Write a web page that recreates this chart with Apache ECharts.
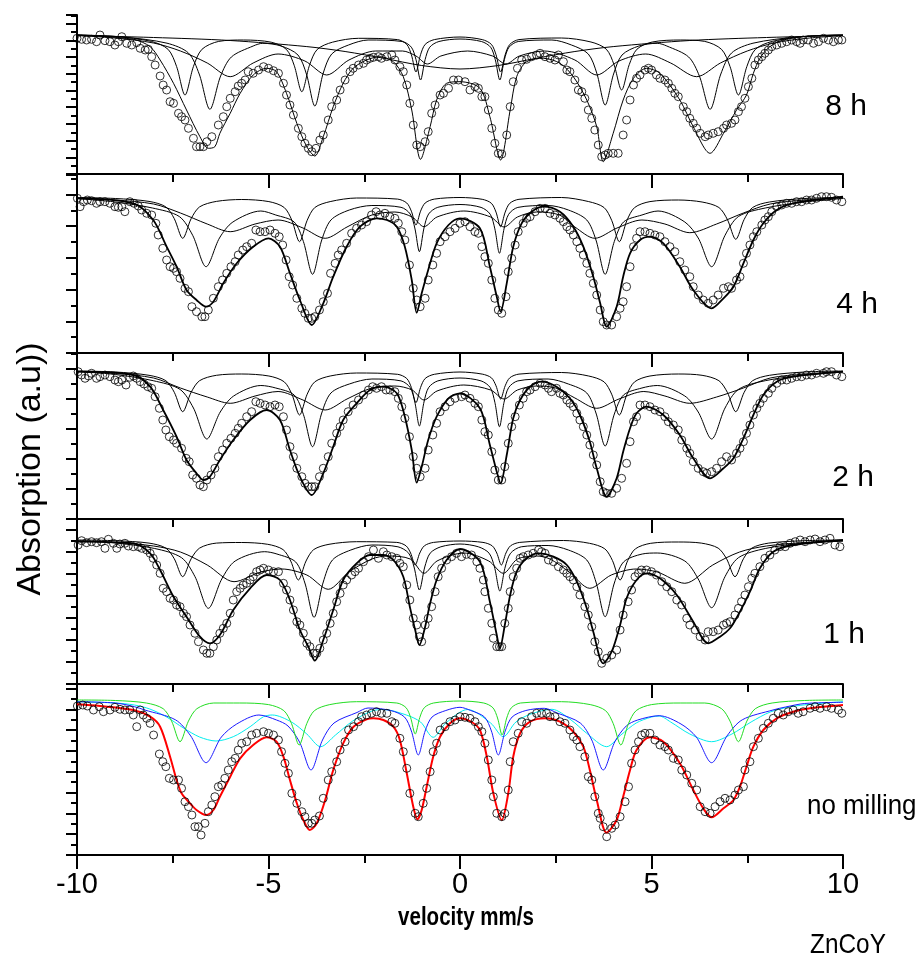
<!DOCTYPE html>
<html><head><meta charset="utf-8">
<script src="https://cdn.jsdelivr.net/npm/echarts@6/dist/echarts.min.js"></script>
<style>html,body{margin:0;padding:0;background:#fff}#c{width:923px;height:958px}</style>
</head><body><div id="c"></div>
<script>
// ---------------- DATA (velocity in mm/s, absorption in a.u.) ----------------
const xTicks = [-10, -5, 0, 5, 10];
const panelLabels = ['8 h', '4 h', '2 h', '1 h', 'no milling'];

// ===== 8 h =====
const data8h = [[-10.0,13.57],[-9.88,13.47],[-9.75,13.4],[-9.62,13.47],[-9.49,13.23],[-9.4,13.9],[-9.27,13.33],[-9.14,13.23],[-9.01,12.9],[-8.92,13.23],[-8.83,13.73],[-8.7,13.07],[-8.57,12.9],[-8.44,13.13],[-8.35,12.57],[-8.22,12.4],[-8.14,12.47],[-8.05,11.73],[-7.96,10.9],[-7.83,9.8],[-7.75,8.9],[-7.66,8.4],[-7.57,7.23],[-7.48,7.07],[-7.35,6.07],[-7.27,5.73],[-7.18,5.4],[-7.09,4.57],[-6.96,3.57],[-6.88,2.73],[-6.79,2.73],[-6.7,2.73],[-6.61,3.23],[-6.48,3.73],[-6.31,4.9],[-6.18,5.73],[-6.09,6.73],[-6.0,7.57],[-5.87,8.23],[-5.79,8.8],[-5.7,9.07],[-5.61,9.4],[-5.53,10.23],[-5.4,10.07],[-5.26,10.4],[-5.13,10.73],[-5.0,10.57],[-4.87,10.33],[-4.74,10.07],[-4.61,9.07],[-4.53,7.9],[-4.44,6.9],[-4.35,5.9],[-4.22,4.57],[-4.13,3.73],[-4.05,3.07],[-3.96,2.57],[-3.87,2.23],[-3.76,2.57],[-3.66,3.4],[-3.57,3.9],[-3.44,5.4],[-3.35,6.73],[-3.22,7.4],[-3.13,8.4],[-3.0,9.4],[-2.87,10.23],[-2.79,10.57],[-2.65,10.9],[-2.52,11.07],[-2.44,11.4],[-2.35,11.57],[-2.26,11.67],[-2.13,11.73],[-2.05,11.57],[-1.91,11.73],[-1.78,11.9],[-1.7,11.4],[-1.57,10.73],[-1.48,10.23],[-1.39,8.9],[-1.31,7.07],[-1.22,4.9],[-1.13,2.9],[-1.04,2.73],[-0.91,3.23],[-0.83,4.23],[-0.74,6.07],[-0.65,6.9],[-0.52,7.9],[-0.43,8.07],[-0.3,8.57],[-0.17,9.4],[-0.04,9.4],[0.13,9.23],[0.26,8.4],[0.39,8.73],[0.48,8.57],[0.57,7.73],[0.65,7.73],[0.74,6.4],[0.83,4.57],[0.91,3.07],[1.0,2.07],[1.09,2.0],[1.22,3.9],[1.31,6.73],[1.39,9.23],[1.5,10.57],[1.61,11.4],[1.74,11.47],[1.87,11.73],[2.0,11.9],[2.09,12.07],[2.22,11.73],[2.35,11.57],[2.48,11.4],[2.57,11.9],[2.7,11.23],[2.79,10.4],[2.87,10.23],[3.0,9.4],[3.09,8.4],[3.18,8.23],[3.26,7.57],[3.35,6.4],[3.44,5.57],[3.52,4.4],[3.61,2.9],[3.7,1.73],[3.79,1.9],[3.87,2.07],[4.0,2.07],[4.13,2.07],[4.26,3.9],[4.35,5.4],[4.44,7.4],[4.53,8.9],[4.61,9.57],[4.7,9.9],[4.83,10.4],[4.92,10.57],[5.0,10.4],[5.13,9.9],[5.22,9.57],[5.35,9.4],[5.44,9.07],[5.53,8.57],[5.61,8.07],[5.7,7.73],[5.83,6.73],[5.92,6.23],[6.0,5.57],[6.09,5.07],[6.18,4.57],[6.27,4.07],[6.4,3.73],[6.48,3.9],[6.61,4.07],[6.74,4.23],[6.88,4.57],[6.96,4.9],[7.09,5.07],[7.18,5.4],[7.27,6.23],[7.35,6.73],[7.44,7.57],[7.53,8.73],[7.62,9.57],[7.7,10.9],[7.79,11.4],[7.88,11.73],[7.96,12.07],[8.05,12.4],[8.14,12.73],[8.27,12.9],[8.4,13.07],[8.53,13.23],[8.66,13.4],[8.79,13.23],[8.88,13.07],[8.96,13.4],[9.09,13.4],[9.23,13.07],[9.36,13.23],[9.49,13.57],[9.62,13.4],[9.75,13.23],[9.88,13.4],[9.97,13.4]];
const fit8h = [[-10,13.9],[-8.53,13.47],[-8.09,12.73],[-7.83,11.4],[-7.48,9.07],[-7.14,6.4],[-6.79,3.73],[-6.57,2.57],[-6.4,2.73],[-6.27,4.07],[-6.0,6.07],[-5.74,8.07],[-5.4,9.9],[-5.05,10.57],[-4.79,10.23],[-4.53,8.07],[-4.26,5.07],[-4.0,2.73],[-3.79,1.8],[-3.57,3.73],[-3.31,6.73],[-3.05,9.07],[-2.79,10.57],[-2.44,11.4],[-2.09,11.73],[-1.74,11.23],[-1.48,9.73],[-1.26,6.4],[-1.03,1.47],[-0.78,4.73],[-0.61,7.4],[-0.35,9.07],[0,9.23],[0.52,8.57],[0.78,5.73],[1.06,1.4],[1.31,6.4],[1.48,9.73],[1.74,11.23],[2.18,11.57],[2.61,11.07],[2.96,9.73],[3.31,7.4],[3.57,4.73],[3.74,1.23],[4.0,4.07],[4.26,7.4],[4.53,9.57],[4.87,10.57],[5.22,10.07],[5.74,7.4],[6.09,4.73],[6.53,2.07],[6.88,4.07],[7.22,6.4],[7.48,7.9],[7.66,10.07],[7.83,11.57],[8.09,12.73],[8.44,13.4],[9.14,13.8],[10,13.9]];
const comp8hA = [[-10,13.9],[-8.8,13.7],[-7.65,13.08],[-7.09,12.1],[-6.81,10.0],[-6.53,6.47],[-6.25,9.8],[-5.97,11.7],[-5.4,12.8],[-5.15,13.07],[-4.67,12.8],[-4.23,11.9],[-4.01,10.0],[-3.79,6.8],[-3.57,10.1],[-3.35,12.0],[-2.91,12.9],[-2.4,13.4],[-1.51,13.25],[-1.27,12.68],[-1.15,11.45],[-1.03,9.4],[-0.91,11.45],[-0.79,12.68],[-0.55,13.25],[0,13.5],[0.56,13.25],[0.8,12.68],[0.92,11.45],[1.04,9.4],[1.16,11.45],[1.28,12.68],[1.52,13.25],[2.4,13.4],[2.91,12.9],[3.35,12.0],[3.57,10.1],[3.79,6.9],[4.01,10.0],[4.23,11.9],[4.67,12.8],[5.15,13.07],[5.4,12.8],[5.97,11.7],[6.25,9.8],[6.53,6.47],[6.81,10.0],[7.09,12.1],[7.65,13.08],[8.8,13.7],[10,13.9]];
const comp8hB = [[-10,13.85],[-9,13.6],[-8,13.1],[-7.3,12.3],[-6.6,11.1],[-6.0,9.73],[-5.4,11.1],[-4.75,12.0],[-4.05,11.3],[-3.48,9.9],[-2.9,11.4],[-2.2,12.3],[-1.5,12.3],[-1.15,11.8],[-0.85,11.0],[-0.5,11.8],[0.2,12.3],[0.85,11.8],[1.2,11.0],[1.55,11.8],[2.2,12.3],[3.0,11.4],[3.57,9.9],[4.15,11.3],[4.85,12.0],[5.5,11.1],[6.18,9.73],[6.8,11.1],[7.5,12.3],[8.2,13.1],[9.0,13.55],[10,13.85]];
const comp8hC = [[-10,13.9],[-9,13.75],[-8.06,13.26],[-7.62,12.46],[-7.4,10.75],[-7.18,7.9],[-6.96,10.75],[-6.74,12.46],[-6.3,13.26],[-5.65,13.4],[-4.93,13.18],[-4.53,12.45],[-4.33,10.87],[-4.13,8.23],[-3.93,10.87],[-3.73,12.45],[-3.33,13.18],[-2.65,13.57],[-1.63,13.44],[-1.39,12.96],[-1.27,11.93],[-1.15,10.2],[-1.03,11.93],[-0.91,12.96],[-0.67,13.44],[0,13.7],[0.58,13.44],[0.82,12.96],[0.94,11.93],[1.06,10.2],[1.18,11.93],[1.3,12.96],[1.54,13.44],[2.65,13.6],[3.42,13.2],[3.82,12.48],[4.02,10.95],[4.22,8.4],[4.42,10.95],[4.62,12.48],[5.02,13.2],[5.75,13.4],[6.39,13.26],[6.83,12.46],[7.05,10.75],[7.27,7.9],[7.49,10.75],[7.71,12.46],[8.15,13.26],[9,13.75],[10,13.9]];
const comp8hD = [[-10,13.85],[-8,13.65],[-6,13.35],[-4,12.74],[-3,12.25],[-2,11.58],[-1,10.85],[0,10.5],[1,10.85],[2,11.58],[3,12.25],[4,12.74],[6,13.35],[8,13.65],[10,13.85]];

// ===== 4 h =====
const data4h = [[-9.99,15.47],[-9.92,14.63],[-9.83,15.13],[-9.73,15.3],[-9.62,15.23],[-9.49,14.97],[-9.4,15.13],[-9.27,15.13],[-9.14,14.97],[-9.01,14.63],[-8.92,14.57],[-8.83,14.63],[-8.75,14.13],[-8.62,15.13],[-8.51,14.97],[-8.4,14.7],[-8.31,14.3],[-8.18,13.97],[-8.05,13.8],[-7.94,12.97],[-7.88,11.8],[-7.76,10.47],[-7.66,9.3],[-7.57,8.63],[-7.48,8.47],[-7.4,8.13],[-7.31,7.47],[-7.18,6.47],[-7.09,6.13],[-7.0,4.63],[-6.88,4.13],[-6.74,3.63],[-6.66,3.63],[-6.57,4.3],[-6.44,5.47],[-6.31,6.63],[-6.2,7.3],[-6.09,7.97],[-5.98,8.63],[-5.87,9.13],[-5.79,9.8],[-5.67,10.3],[-5.57,10.63],[-5.44,10.97],[-5.33,12.3],[-5.22,12.13],[-5.09,12.13],[-4.96,12.3],[-4.83,11.97],[-4.72,11.63],[-4.63,10.8],[-4.54,9.3],[-4.46,7.63],[-4.37,6.8],[-4.26,5.47],[-4.13,4.47],[-4.05,3.97],[-3.96,3.47],[-3.87,3.47],[-3.79,3.63],[-3.67,4.3],[-3.57,5.13],[-3.46,5.97],[-3.38,7.97],[-3.26,8.97],[-3.18,9.8],[-3.09,10.3],[-2.96,10.97],[-2.83,11.97],[-2.7,12.47],[-2.57,12.8],[-2.44,13.13],[-2.31,13.8],[-2.19,14.13],[-2.09,13.8],[-1.96,13.97],[-1.83,13.63],[-1.7,13.47],[-1.61,12.97],[-1.52,12.13],[-1.44,11.3],[-1.32,8.8],[-1.22,6.47],[-1.13,5.3],[-1.04,4.63],[-0.91,5.47],[-0.83,7.3],[-0.71,8.8],[-0.61,9.97],[-0.52,11.13],[-0.39,11.63],[-0.26,12.13],[-0.13,12.47],[0.0,12.97],[0.13,13.13],[0.26,12.63],[0.39,12.13],[0.48,11.97],[0.57,10.63],[0.65,9.63],[0.74,8.97],[0.83,7.3],[0.91,5.47],[1.0,4.3],[1.09,3.97],[1.2,5.63],[1.26,8.13],[1.35,9.47],[1.44,10.8],[1.52,12.13],[1.65,12.97],[1.74,13.47],[1.83,13.63],[1.96,14.13],[2.09,14.47],[2.22,14.47],[2.35,13.97],[2.48,13.8],[2.61,13.47],[2.7,13.13],[2.79,12.63],[2.87,12.3],[2.96,11.8],[3.05,11.13],[3.13,10.47],[3.22,9.8],[3.31,8.97],[3.39,7.97],[3.48,6.97],[3.57,5.8],[3.66,4.3],[3.74,3.13],[3.83,2.8],[3.96,2.8],[4.09,3.63],[4.18,4.47],[4.26,5.13],[4.35,6.63],[4.44,8.63],[4.53,10.63],[4.61,11.47],[4.7,12.13],[4.83,12.13],[4.96,11.97],[5.09,11.8],[5.22,11.63],[5.35,11.13],[5.48,10.63],[5.61,10.13],[5.74,9.13],[5.87,8.3],[6.0,7.63],[6.09,6.63],[6.22,5.8],[6.35,5.3],[6.48,4.97],[6.61,5.3],[6.74,5.8],[6.88,6.47],[7.01,6.63],[7.09,6.47],[7.22,7.3],[7.31,7.63],[7.4,8.97],[7.48,9.97],[7.57,10.8],[7.66,11.63],[7.75,12.13],[7.88,12.8],[7.96,13.3],[8.05,13.63],[8.14,14.13],[8.27,14.63],[8.4,14.8],[8.53,14.97],[8.66,14.97],[8.79,15.13],[8.92,15.13],[9.05,15.3],[9.18,15.3],[9.31,15.47],[9.44,15.63],[9.57,15.63],[9.7,15.57],[9.83,15.3],[9.97,15.13]];
const fit4h = [[-9.99,15.47],[-8.53,14.97],[-8.01,13.3],[-7.66,10.63],[-7.4,8.63],[-7.14,6.3],[-6.88,5.3],[-6.63,4.63],[-6.44,5.13],[-6.18,6.97],[-5.83,8.97],[-5.4,10.63],[-5.0,11.47],[-4.7,10.63],[-4.44,7.97],[-4.18,5.3],[-3.87,2.8],[-3.57,4.97],[-3.31,7.63],[-2.96,10.63],[-2.61,12.63],[-2.18,13.47],[-1.91,13.3],[-1.65,12.63],[-1.44,10.63],[-1.26,7.3],[-1.13,4.03],[-1.0,5.97],[-0.83,8.3],[-0.61,10.97],[-0.3,12.8],[0,13.47],[0.52,12.47],[0.78,8.63],[0.96,5.63],[1.06,4.13],[1.22,6.97],[1.39,10.63],[1.61,12.97],[1.87,14.13],[2.18,14.63],[2.61,14.13],[2.96,12.63],[3.22,10.63],[3.48,7.63],[3.66,4.97],[3.83,2.63],[4.09,4.63],[4.26,7.63],[4.44,9.97],[4.7,11.3],[4.96,11.63],[5.31,10.97],[5.74,8.63],[6.09,6.3],[6.57,4.47],[6.88,5.47],[7.14,6.63],[7.4,8.97],[7.66,11.3],[7.92,12.97],[8.27,14.3],[8.7,14.97],[10,15.63]];
const comp4hA = [[-10,15.45],[-9,15.1],[-8.03,14.5],[-7.33,13.65],[-6.98,11.77],[-6.63,8.63],[-6.28,11.5],[-5.93,13.1],[-5.2,14.2],[-4.81,13.8],[-4.33,13.1],[-4.09,11.16],[-3.85,7.87],[-3.61,11.3],[-3.37,13.3],[-2.89,14.3],[-2.3,14.75],[-1.54,14.57],[-1.3,13.9],[-1.18,12.5],[-1.06,10.13],[-0.94,12.5],[-0.82,13.9],[-0.58,14.57],[0,14.85],[0.55,14.56],[0.79,13.87],[0.91,12.41],[1.03,9.97],[1.15,12.41],[1.27,13.87],[1.51,14.56],[2.3,14.75],[2.83,14.3],[3.31,13.3],[3.55,11.3],[3.79,7.87],[4.03,11.16],[4.27,13.1],[4.75,13.8],[5.17,14.2],[5.87,13.1],[6.22,11.5],[6.57,8.63],[6.92,11.77],[7.27,13.65],[7.97,14.5],[9,15.1],[10,15.45]];
const comp4hB = [[-10,15.5],[-9,15.3],[-8,14.9],[-7.3,14.0],[-6.6,12.9],[-6.0,12.13],[-5.35,12.9],[-4.75,13.3],[-4.1,12.5],[-3.52,11.47],[-2.95,12.6],[-2.3,13.8],[-1.7,14.1],[-1.25,13.6],[-0.94,12.63],[-0.6,13.6],[0.1,14.2],[0.8,13.6],[1.15,12.6],[1.5,13.6],[2.0,14.1],[2.6,13.8],[3.0,12.6],[3.52,11.47],[4.1,12.5],[4.75,13.3],[5.35,12.9],[6.0,12.03],[6.7,12.9],[7.4,14.0],[8.1,14.9],[9.0,15.3],[10,15.5]];
const comp4hC = [[-10,15.55],[-9,15.45],[-8.12,15.16],[-7.68,14.61],[-7.46,13.43],[-7.24,11.47],[-7.02,13.43],[-6.8,14.61],[-6.36,15.16],[-5.7,15.35],[-4.99,15.14],[-4.59,14.55],[-4.39,13.27],[-4.19,11.13],[-3.99,13.27],[-3.79,14.55],[-3.39,15.14],[-2.7,15.5],[-1.63,15.39],[-1.39,15.0],[-1.27,14.18],[-1.15,12.8],[-1.03,14.18],[-0.91,15.0],[-0.67,15.39],[0,15.55],[0.58,15.37],[0.82,14.97],[0.94,14.09],[1.06,12.63],[1.18,14.09],[1.3,14.97],[1.54,15.37],[2.65,15.55],[3.36,15.14],[3.76,14.55],[3.96,13.27],[4.16,11.13],[4.36,13.27],[4.56,14.55],[4.96,15.14],[5.7,15.3],[6.32,15.1],[6.76,14.55],[6.98,13.36],[7.2,11.37],[7.42,13.36],[7.64,14.55],[8.08,15.1],[9,15.45],[10,15.55]];

// ===== 2 h =====
const data2h = [[-9.97,14.73],[-9.88,14.4],[-9.79,14.07],[-9.7,14.3],[-9.62,14.57],[-9.49,14.07],[-9.4,14.23],[-9.27,14.4],[-9.14,14.23],[-9.01,13.9],[-8.92,13.73],[-8.83,13.9],[-8.72,13.4],[-8.62,14.17],[-8.53,14.3],[-8.44,14.07],[-8.35,13.73],[-8.25,13.5],[-8.15,13.23],[-8.05,13.07],[-7.96,12.23],[-7.85,11.07],[-7.76,9.9],[-7.68,8.9],[-7.59,8.23],[-7.48,7.9],[-7.4,7.57],[-7.27,7.07],[-7.15,6.07],[-7.07,5.73],[-6.98,4.4],[-6.88,4.07],[-6.79,3.4],[-6.7,3.23],[-6.61,3.9],[-6.5,4.4],[-6.4,5.07],[-6.31,6.23],[-6.2,6.9],[-6.09,7.57],[-5.98,8.07],[-5.87,8.57],[-5.79,9.07],[-5.7,9.57],[-5.57,10.23],[-5.44,10.73],[-5.33,11.73],[-5.22,11.57],[-5.09,11.4],[-4.96,11.23],[-4.83,11.4],[-4.72,11.23],[-4.61,10.23],[-4.53,8.9],[-4.44,7.23],[-4.35,6.23],[-4.26,5.07],[-4.13,4.23],[-4.05,3.57],[-3.96,3.23],[-3.87,3.23],[-3.79,3.23],[-3.67,4.23],[-3.57,5.07],[-3.44,6.23],[-3.35,7.57],[-3.22,8.57],[-3.13,9.23],[-3.05,9.9],[-2.92,10.73],[-2.79,11.4],[-2.65,11.9],[-2.52,12.4],[-2.39,12.9],[-2.28,13.23],[-2.18,13.07],[-2.05,13.23],[-1.93,12.9],[-1.83,12.9],[-1.7,12.73],[-1.61,12.07],[-1.52,11.23],[-1.44,10.07],[-1.32,8.23],[-1.22,6.23],[-1.13,5.07],[-1.04,4.23],[-0.91,5.07],[-0.83,6.9],[-0.71,8.4],[-0.61,9.57],[-0.52,10.73],[-0.39,11.23],[-0.26,11.73],[-0.13,12.07],[0.04,12.23],[0.13,12.4],[0.26,12.07],[0.39,11.57],[0.48,11.23],[0.57,9.9],[0.65,8.73],[0.74,8.4],[0.83,6.73],[0.91,4.9],[1.0,3.9],[1.09,3.9],[1.17,5.23],[1.26,7.57],[1.35,9.23],[1.44,10.23],[1.55,11.4],[1.65,12.07],[1.74,12.73],[1.83,12.9],[1.96,13.23],[2.09,13.57],[2.22,13.4],[2.31,13.07],[2.39,12.73],[2.52,13.07],[2.61,12.57],[2.7,12.4],[2.79,11.9],[2.87,11.57],[2.96,11.23],[3.05,10.57],[3.13,9.9],[3.22,9.23],[3.31,8.4],[3.39,7.4],[3.48,6.4],[3.57,5.4],[3.66,3.73],[3.74,2.73],[3.83,2.57],[3.96,2.57],[4.09,3.07],[4.22,4.07],[4.35,5.57],[4.44,7.73],[4.53,9.73],[4.61,10.23],[4.7,11.4],[4.83,11.4],[4.96,11.23],[5.09,10.9],[5.22,10.73],[5.35,10.23],[5.44,9.73],[5.57,9.4],[5.7,8.9],[5.79,7.9],[5.92,7.07],[6.0,6.57],[6.09,5.73],[6.22,5.07],[6.35,4.73],[6.44,4.57],[6.57,4.73],[6.7,5.07],[6.83,5.73],[6.96,6.23],[7.09,5.9],[7.22,6.57],[7.31,7.07],[7.4,7.73],[7.48,8.57],[7.57,9.4],[7.66,10.4],[7.75,11.07],[7.83,11.57],[7.92,12.07],[8.05,12.57],[8.14,13.07],[8.27,13.57],[8.4,13.9],[8.53,13.9],[8.66,14.07],[8.79,14.23],[8.92,14.23],[9.05,14.4],[9.18,14.4],[9.31,14.57],[9.49,14.57],[9.57,14.73],[9.7,14.73],[9.83,14.4],[9.97,14.23]];
const fit2h = [[-9.99,14.73],[-8.53,14.4],[-8.09,13.23],[-7.75,10.9],[-7.4,8.23],[-7.14,5.9],[-6.88,4.57],[-6.7,3.9],[-6.53,4.23],[-6.27,5.9],[-5.92,7.9],[-5.48,9.9],[-5.05,10.9],[-4.7,9.9],[-4.44,6.9],[-4.18,4.23],[-3.87,2.4],[-3.57,4.57],[-3.31,7.23],[-3.05,9.9],[-2.7,11.57],[-2.35,12.9],[-2.0,13.23],[-1.65,12.57],[-1.44,10.23],[-1.26,6.9],[-1.13,3.63],[-1.0,5.23],[-0.83,7.9],[-0.61,10.23],[-0.3,12.07],[0,12.55],[0.52,11.07],[0.78,7.4],[0.96,4.73],[1.06,3.57],[1.22,6.4],[1.39,10.07],[1.57,11.9],[1.83,13.23],[2.13,13.73],[2.52,13.23],[2.87,12.07],[3.13,10.4],[3.39,7.73],[3.57,5.07],[3.83,2.23],[4.09,4.07],[4.26,6.73],[4.44,9.07],[4.61,10.57],[4.87,11.23],[5.31,10.4],[5.74,8.4],[6.09,6.07],[6.53,4.07],[6.88,5.07],[7.14,6.07],[7.4,8.07],[7.66,10.4],[7.92,12.4],[8.27,13.73],[8.7,14.23],[10,14.73]];
const comp2hA = [[-10,14.75],[-9,14.45],[-8.01,13.83],[-7.31,12.96],[-6.96,11.1],[-6.61,8.0],[-6.26,10.7],[-5.91,12.3],[-5.2,13.35],[-4.81,13.1],[-4.33,12.4],[-4.09,10.47],[-3.85,7.23],[-3.61,10.6],[-3.37,12.6],[-2.89,13.5],[-2.3,14.0],[-1.54,13.81],[-1.3,13.14],[-1.18,11.7],[-1.06,9.3],[-0.94,11.7],[-0.82,13.14],[-0.58,13.81],[0,14.1],[0.55,13.81],[0.79,13.14],[0.91,11.67],[1.03,9.23],[1.15,11.67],[1.27,13.14],[1.51,13.81],[2.3,14.0],[2.83,13.5],[3.31,12.6],[3.55,10.6],[3.79,7.3],[4.03,10.5],[4.27,12.4],[4.75,13.1],[5.15,13.35],[5.87,12.3],[6.22,10.7],[6.57,8.0],[6.92,11.1],[7.27,12.96],[7.97,13.83],[9,14.4],[10,14.7]];
const comp2hB = [[-10,14.75],[-9,14.55],[-8,14.1],[-7.3,13.1],[-6.6,12.2],[-6.0,11.57],[-5.35,12.3],[-4.75,12.75],[-4.1,11.9],[-3.52,10.9],[-2.95,12.0],[-2.3,13.1],[-1.7,13.3],[-1.25,12.9],[-0.94,11.9],[-0.6,12.8],[0.1,13.4],[0.8,12.9],[1.15,12.0],[1.5,12.9],[2.0,13.3],[2.5,13.1],[3.0,12.1],[3.57,11.07],[4.15,12.0],[4.8,12.75],[5.35,12.3],[6.0,11.57],[6.7,12.2],[7.4,13.1],[8.1,14.1],[9.0,14.5],[10,14.75]];
const comp2hC = [[-10,14.8],[-9,14.7],[-8.12,14.37],[-7.68,13.83],[-7.46,12.67],[-7.24,10.73],[-7.02,12.67],[-6.8,13.83],[-6.36,14.37],[-5.7,14.5],[-4.99,14.3],[-4.59,13.72],[-4.39,12.48],[-4.19,10.4],[-3.99,12.48],[-3.79,13.72],[-3.39,14.3],[-2.7,14.6],[-1.63,14.47],[-1.39,14.05],[-1.27,13.15],[-1.15,11.63],[-1.03,13.15],[-0.91,14.05],[-0.67,14.47],[0,14.7],[0.58,14.49],[0.82,14.12],[0.94,13.32],[1.06,12.0],[1.18,13.32],[1.3,14.12],[1.54,14.49],[2.65,14.65],[3.36,14.3],[3.76,13.72],[3.96,12.48],[4.16,10.4],[4.36,12.48],[4.56,13.72],[4.96,14.3],[5.7,14.5],[6.32,14.37],[6.76,13.83],[6.98,12.67],[7.2,10.73],[7.42,12.67],[7.64,13.83],[8.08,14.37],[9,14.7],[10,14.8]];

// ===== 1 h =====
const data1h = [[-9.97,13.9],[-9.88,14.33],[-9.75,14.13],[-9.62,14.23],[-9.49,14.13],[-9.36,14.23],[-9.27,13.57],[-9.18,14.47],[-9.05,14.07],[-8.96,13.57],[-8.88,14.0],[-8.75,14.07],[-8.66,13.8],[-8.53,13.73],[-8.4,13.73],[-8.31,13.57],[-8.18,13.4],[-8.09,13.07],[-8.01,12.57],[-7.92,11.9],[-7.83,11.07],[-7.75,9.57],[-7.66,9.23],[-7.57,8.57],[-7.48,8.4],[-7.4,7.9],[-7.31,7.73],[-7.22,7.07],[-7.14,6.73],[-7.05,5.9],[-6.92,5.07],[-6.83,4.23],[-6.7,3.4],[-6.61,3.07],[-6.53,3.07],[-6.44,3.73],[-6.35,4.4],[-6.27,5.07],[-6.18,5.57],[-6.09,6.07],[-6.0,7.07],[-5.92,8.4],[-5.83,9.23],[-5.74,9.57],[-5.66,9.9],[-5.57,10.07],[-5.48,10.4],[-5.4,10.73],[-5.31,11.23],[-5.22,11.4],[-5.13,11.57],[-5.0,11.4],[-4.87,11.23],[-4.74,11.23],[-4.61,10.07],[-4.53,9.4],[-4.44,8.4],[-4.35,7.4],[-4.26,6.23],[-4.18,5.9],[-4.09,5.07],[-4.0,4.07],[-3.92,3.73],[-3.83,3.07],[-3.74,3.07],[-3.66,3.57],[-3.57,4.4],[-3.48,5.07],[-3.39,6.07],[-3.31,7.07],[-3.22,8.23],[-3.13,9.07],[-3.05,9.9],[-2.96,10.4],[-2.83,10.9],[-2.74,11.23],[-2.65,11.57],[-2.52,12.23],[-2.39,12.73],[-2.26,13.4],[-2.13,12.57],[-2.0,13.23],[-1.91,12.9],[-1.78,12.73],[-1.65,12.57],[-1.57,12.07],[-1.48,11.73],[-1.39,9.9],[-1.31,8.4],[-1.22,6.57],[-1.13,5.9],[-1.06,4.73],[-1.0,4.23],[-0.91,5.9],[-0.83,6.57],[-0.74,7.73],[-0.65,9.23],[-0.57,10.73],[-0.48,11.57],[-0.35,12.4],[-0.22,12.73],[-0.09,13.07],[0.04,12.73],[0.17,12.97],[0.3,12.9],[0.44,12.23],[0.52,11.57],[0.61,10.4],[0.65,9.23],[0.74,7.57],[0.83,6.07],[0.87,4.57],[0.96,3.73],[1.03,3.73],[1.09,3.73],[1.17,6.07],[1.26,7.57],[1.31,9.23],[1.39,10.73],[1.48,11.57],[1.57,12.57],[1.65,12.73],[1.78,12.9],[1.91,13.07],[2.05,13.4],[2.13,13.23],[2.22,13.07],[2.31,12.4],[2.44,12.23],[2.57,11.73],[2.7,11.4],[2.79,11.07],[2.87,10.73],[2.96,10.4],[3.05,9.73],[3.13,8.9],[3.26,7.73],[3.35,6.9],[3.44,5.73],[3.52,4.23],[3.61,3.23],[3.7,2.07],[3.83,2.57],[3.96,2.9],[4.09,3.4],[4.18,5.4],[4.26,6.9],[4.39,8.23],[4.48,9.4],[4.57,10.73],[4.66,11.07],[4.74,11.4],[4.87,11.4],[5.0,11.23],[5.13,10.9],[5.27,10.23],[5.4,9.73],[5.53,9.23],[5.66,8.4],[5.79,7.9],[5.92,6.57],[6.0,5.9],[6.14,5.4],[6.27,4.73],[6.4,4.4],[6.48,5.23],[6.61,5.23],[6.74,5.4],[6.88,5.9],[6.96,6.07],[7.05,6.23],[7.18,6.9],[7.27,7.57],[7.35,8.23],[7.44,8.9],[7.53,9.73],[7.62,10.57],[7.7,11.07],[7.83,11.73],[7.96,12.57],[8.09,12.9],[8.22,13.4],[8.35,13.73],[8.49,13.73],[8.62,14.07],[8.75,14.23],[8.88,14.4],[9.01,14.23],[9.14,14.4],[9.27,14.5],[9.4,14.23],[9.53,14.4],[9.66,14.57],[9.79,13.9],[9.92,13.73]];
const fit1h = [[-9.99,14.23],[-8.53,14.07],[-8.09,13.07],[-7.83,11.4],[-7.48,8.73],[-7.14,6.73],[-6.79,4.73],[-6.53,4.07],[-6.27,4.9],[-5.92,7.4],[-5.48,9.57],[-5.05,10.9],[-4.7,10.4],[-4.44,8.4],[-4.18,5.4],[-3.96,3.73],[-3.79,2.33],[-3.57,4.4],[-3.31,7.4],[-3.05,10.4],[-2.7,12.07],[-2.35,12.9],[-2.0,12.9],[-1.74,12.4],[-1.48,10.73],[-1.31,7.73],[-1.17,5.4],[-1.06,3.9],[-0.91,5.73],[-0.78,8.07],[-0.61,10.4],[-0.35,12.4],[0,13.5],[0.52,12.23],[0.78,8.23],[0.96,4.9],[1.04,3.57],[1.17,5.9],[1.31,8.9],[1.48,11.23],[1.74,12.57],[2.05,13.07],[2.44,12.73],[2.79,11.9],[3.05,10.23],[3.31,7.57],[3.48,5.23],[3.74,2.07],[3.96,3.23],[4.18,5.9],[4.35,8.57],[4.61,10.4],[4.87,11.07],[5.22,10.57],[5.66,8.9],[6.09,6.23],[6.48,4.07],[6.79,4.73],[7.05,5.57],[7.31,7.23],[7.57,9.23],[7.83,11.57],[8.18,13.23],[8.7,13.9],[10,14.4]];
const comp1hA = [[-10,14.33],[-9,14.1],[-7.97,13.55],[-7.27,12.63],[-6.92,10.74],[-6.57,7.57],[-6.22,10.5],[-5.87,12.3],[-5.1,13.23],[-4.78,13.0],[-4.29,12.2],[-4.05,10.1],[-3.81,6.67],[-3.57,10.2],[-3.33,12.4],[-2.85,13.4],[-2.3,13.9],[-1.62,13.72],[-1.34,13.08],[-1.2,11.7],[-1.06,9.4],[-0.92,11.7],[-0.78,13.08],[-0.5,13.72],[0,14.0],[0.48,13.72],[0.76,13.08],[0.9,11.7],[1.04,9.3],[1.18,11.7],[1.32,13.08],[1.6,13.72],[2.3,13.85],[2.83,13.4],[3.31,12.4],[3.55,10.2],[3.79,6.73],[4.03,10.1],[4.27,12.2],[4.76,13.0],[5.15,13.1],[5.87,12.3],[6.22,10.5],[6.57,7.63],[6.92,10.74],[7.27,12.63],[7.97,13.55],[9,14.1],[10,14.3]];
const comp1hB = [[-10,14.3],[-9,14.15],[-8,13.8],[-7.3,13.2],[-6.6,11.9],[-5.9,10.23],[-5.2,11.2],[-4.65,11.5],[-4.0,10.9],[-3.44,9.47],[-2.9,11.2],[-2.3,12.5],[-1.9,12.8],[-1.3,12.5],[-0.94,11.07],[-0.6,12.3],[0.1,13.1],[0.75,12.3],[1.13,11.07],[1.5,12.5],[2.0,12.8],[2.35,12.5],[2.85,11.2],[3.39,9.57],[3.95,10.9],[4.6,11.5],[5.15,11.2],[5.87,10.07],[6.6,11.9],[7.3,13.2],[8.0,13.8],[9.0,14.15],[10,14.3]];
const comp1hC = [[-10,14.4],[-9,14.33],[-8.12,14.09],[-7.68,13.59],[-7.46,12.52],[-7.24,10.73],[-7.02,12.52],[-6.8,13.59],[-6.36,14.09],[-5.7,14.15],[-5.02,13.97],[-4.62,13.44],[-4.42,12.3],[-4.22,10.4],[-4.02,12.3],[-3.82,13.44],[-3.42,13.97],[-2.7,14.23],[-1.65,14.16],[-1.41,13.82],[-1.29,13.1],[-1.17,11.9],[-1.05,13.1],[-0.93,13.82],[-0.69,14.16],[0,14.3],[0.6,14.16],[0.84,13.82],[0.96,13.1],[1.08,11.9],[1.2,13.1],[1.32,13.82],[1.56,14.16],[2.7,14.35],[3.38,14.07],[3.78,13.52],[3.98,12.35],[4.18,10.4],[4.38,12.35],[4.58,13.52],[4.98,14.07],[5.7,14.2],[6.3,14.09],[6.74,13.59],[6.96,12.52],[7.18,10.73],[7.4,12.52],[7.62,13.59],[8.06,14.09],[9,14.33],[10,14.4]];

// ===== no milling =====
const dataNM = [[-9.99,14.9],[-9.85,15.0],[-9.73,14.9],[-9.57,14.5],[-9.42,14.83],[-9.31,14.33],[-9.14,14.5],[-9.01,14.77],[-8.88,14.57],[-8.75,14.5],[-8.62,14.5],[-8.53,14.0],[-8.44,12.83],[-8.35,14.5],[-8.27,14.0],[-8.18,13.67],[-8.09,13.17],[-8.0,12.0],[-7.85,10.1],[-7.76,9.33],[-7.68,8.83],[-7.59,7.67],[-7.48,7.5],[-7.35,7.5],[-7.27,6.67],[-7.18,5.33],[-7.09,4.83],[-7.0,4.0],[-6.92,2.83],[-6.83,2.83],[-6.76,2.0],[-6.66,3.17],[-6.57,4.33],[-6.48,5.0],[-6.4,5.83],[-6.31,6.83],[-6.22,7.0],[-6.14,7.67],[-6.05,8.5],[-5.96,9.33],[-5.87,9.67],[-5.79,10.5],[-5.7,11.17],[-5.57,11.33],[-5.44,12.0],[-5.31,12.17],[-5.13,12.33],[-5.0,12.17],[-4.87,12.0],[-4.74,11.5],[-4.66,10.33],[-4.57,9.17],[-4.48,8.17],[-4.39,6.17],[-4.26,5.17],[-4.13,4.33],[-4.05,3.83],[-3.96,3.17],[-3.87,3.17],[-3.79,3.5],[-3.67,3.9],[-3.57,5.67],[-3.44,7.5],[-3.35,8.33],[-3.22,9.33],[-3.13,10.5],[-3.0,11.33],[-2.91,12.5],[-2.78,12.83],[-2.65,13.33],[-2.57,13.83],[-2.44,14.0],[-2.31,14.17],[-2.18,14.33],[-2.05,14.17],[-1.91,14.17],[-1.78,13.33],[-1.7,13.17],[-1.57,11.67],[-1.48,10.33],[-1.39,8.67],[-1.31,6.17],[-1.17,4.17],[-1.09,3.83],[-0.96,5.17],[-0.87,6.67],[-0.78,8.33],[-0.7,10.33],[-0.61,11.17],[-0.52,12.5],[-0.39,12.83],[-0.26,13.33],[-0.13,13.5],[0.0,13.83],[0.13,13.77],[0.26,13.67],[0.39,13.33],[0.48,12.83],[0.57,12.33],[0.65,11.17],[0.74,9.5],[0.83,7.5],[0.87,5.83],[0.96,4.17],[1.09,3.83],[1.17,4.17],[1.26,6.5],[1.31,9.33],[1.39,11.33],[1.52,12.17],[1.61,13.33],[1.74,13.17],[1.87,13.83],[2.0,14.17],[2.13,14.17],[2.26,14.17],[2.35,13.83],[2.48,13.83],[2.61,13.33],[2.74,13.17],[2.87,12.5],[2.96,11.83],[3.05,11.5],[3.13,10.83],[3.26,9.83],[3.35,7.83],[3.44,7.5],[3.52,5.83],[3.61,4.17],[3.66,3.67],[3.74,2.83],[3.83,1.83],[3.96,2.67],[4.05,3.0],[4.18,3.83],[4.31,5.33],[4.4,6.83],[4.48,9.17],[4.57,10.5],[4.66,11.33],[4.74,12.0],[4.83,12.17],[4.96,12.17],[5.09,11.5],[5.22,11.0],[5.35,10.83],[5.44,10.5],[5.57,9.67],[5.7,9.5],[5.79,8.5],[5.92,8.0],[6.05,7.17],[6.18,6.5],[6.27,4.83],[6.4,4.33],[6.53,4.17],[6.66,4.83],[6.79,5.33],[6.92,5.67],[7.05,5.5],[7.18,6.0],[7.27,6.5],[7.4,6.83],[7.44,8.5],[7.57,9.33],[7.66,10.83],[7.79,11.67],[7.92,12.67],[8.05,13.17],[8.18,13.67],[8.31,14.17],[8.44,14.0],[8.57,14.33],[8.7,14.5],[8.83,14.17],[8.96,14.33],[9.14,14.67],[9.27,14.83],[9.4,14.67],[9.57,14.83],[9.7,14.67],[9.88,14.5],[9.97,14.17]];
const fitNM = [[-10,15.07],[-9.4,14.9],[-8.53,14.5],[-8.09,13.83],[-7.83,12.83],[-7.57,9.83],[-7.4,7.5],[-7.27,6.17],[-7.09,5.33],[-6.88,4.5],[-6.63,4.0],[-6.44,4.5],[-6.27,5.83],[-6.0,7.83],[-5.74,9.67],[-5.4,11.0],[-5.05,11.77],[-4.79,11.33],[-4.61,9.83],[-4.44,7.5],[-4.26,5.17],[-4.09,3.5],[-3.92,2.5],[-3.74,3.17],[-3.52,5.5],[-3.31,8.5],[-3.05,11.17],[-2.78,12.83],[-2.44,13.57],[-2.26,13.67],[-2.0,13.5],[-1.74,12.83],[-1.57,11.5],[-1.39,8.17],[-1.22,4.83],[-1.11,3.57],[-1.0,4.5],[-0.87,6.83],[-0.7,9.83],[-0.52,11.83],[-0.26,13.17],[0,13.67],[0.3,13.3],[0.52,12.5],[0.7,9.83],[0.87,6.17],[1.09,3.5],[1.26,6.17],[1.39,9.83],[1.57,12.17],[1.83,13.33],[2.22,13.67],[2.61,13.33],[2.96,12.33],[3.22,10.83],[3.39,8.5],[3.57,5.5],[3.83,2.23],[4.09,3.5],[4.26,5.83],[4.44,8.5],[4.61,10.5],[4.96,11.77],[5.31,11.33],[5.74,9.17],[6.09,6.5],[6.35,4.67],[6.57,3.77],[6.88,4.67],[7.14,5.5],[7.31,6.83],[7.48,8.83],[7.66,10.83],[7.92,12.5],[8.27,13.67],[8.7,14.33],[9.14,14.67],[10,15.0]];
const compNMBlue = [[-10,15.33],[-9,15.2],[-8.5,14.83],[-8.23,14.5],[-7.43,13.52],[-7.03,11.9],[-6.63,9.23],[-6.23,11.8],[-5.83,13.1],[-5.25,14.0],[-4.79,13.5],[-4.49,12.9],[-4.19,11.3],[-3.89,8.5],[-3.59,11.5],[-3.29,13.2],[-2.69,14.25],[-2.4,14.7],[-1.81,14.45],[-1.45,13.8],[-1.27,12.4],[-1.09,10.0],[-0.91,12.4],[-0.73,13.8],[-0.37,14.45],[0,14.77],[0.28,14.45],[0.64,13.8],[0.82,12.4],[1.0,10.0],[1.18,12.4],[1.36,13.8],[1.72,14.45],[2.2,14.67],[2.54,14.2],[3.14,13.2],[3.44,11.5],[3.74,8.5],[4.04,11.3],[4.34,12.9],[4.64,13.5],[5.2,13.93],[5.77,13.1],[6.17,11.8],[6.57,9.23],[6.97,11.9],[7.37,13.52],[8.17,14.5],[8.5,14.8],[9,15.15],[10,15.27]];
const compNMCyan = [[-10,15.33],[-9,15.2],[-8.5,15.0],[-8.1,14.6],[-7.66,13.8],[-7.22,12.7],[-6.8,11.8],[-6.37,11.4],[-5.92,11.83],[-5.48,12.83],[-5.13,13.83],[-4.9,14.0],[-4.4,13.3],[-4.0,12.1],[-3.64,10.83],[-3.25,12.0],[-2.8,13.4],[-2.3,14.4],[-2.0,14.55],[-1.4,14.0],[-1.03,13.3],[-0.7,11.77],[-0.37,13.2],[0.2,14.55],[0.8,13.2],[1.13,11.83],[1.46,13.3],[1.85,14.1],[2.4,14.57],[2.9,13.5],[3.3,12.2],[3.83,10.83],[4.2,12.0],[4.6,13.2],[5.0,13.8],[5.2,13.9],[5.5,13.3],[6.0,12.1],[6.57,11.33],[7.1,12.1],[7.6,13.3],[8.1,14.3],[8.6,14.8],[9.2,15.1],[10,15.33]];
const compNMGreen = [[-10,15.5],[-9,15.45],[-8.19,15.2],[-7.75,14.63],[-7.53,13.39],[-7.31,11.33],[-7.09,13.39],[-6.87,14.63],[-6.43,15.2],[-5.75,15.2],[-5.0,15.04],[-4.6,14.44],[-4.4,13.15],[-4.2,11.0],[-4.0,13.15],[-3.8,14.44],[-3.4,15.04],[-2.7,15.33],[-1.65,15.2],[-1.41,14.74],[-1.29,13.75],[-1.17,12.1],[-1.05,13.75],[-0.93,14.74],[-0.69,15.2],[0,15.4],[0.62,15.2],[0.86,14.72],[0.98,13.7],[1.1,12.0],[1.22,13.7],[1.34,14.72],[1.58,15.2],[2.65,15.33],[3.4,15.04],[3.8,14.44],[4.0,13.15],[4.2,11.0],[4.4,13.15],[4.6,14.44],[5.0,15.04],[5.75,15.2],[6.39,15.2],[6.83,14.63],[7.05,13.39],[7.27,11.33],[7.49,13.39],[7.71,14.63],[8.15,15.2],[9,15.45],[10,15.5]];

// ---------------- LAYOUT / STYLE ----------------
const FONT = '"Liberation Sans", Arial, sans-serif';
const panels = [
  {top: 15,  height: 159, max: 15.9, interval: 1.67, data: data8h, fit: fit8h, fitColor: '#000', fitWidth: 1,
   comps: [[comp8hD, '#000'], [comp8hB, '#000'], [comp8hA, '#000'], [comp8hC, '#000']]},
  {top: 175, height: 178, max: 17.8, interval: 3.17, data: data4h, fit: fit4h, fitColor: '#000', fitWidth: 1.8,
   comps: [[comp4hB, '#000'], [comp4hA, '#000'], [comp4hC, '#000']]},
  {top: 353, height: 166, max: 16.6, interval: 3.0, data: data2h, fit: fit2h, fitColor: '#000', fitWidth: 1.8,
   comps: [[comp2hB, '#000'], [comp2hA, '#000'], [comp2hC, '#000']]},
  {top: 519, height: 165, max: 16.5, interval: 2.2, data: data1h, fit: fit1h, fitColor: '#000', fitWidth: 1.8,
   comps: [[comp1hB, '#000'], [comp1hA, '#000'], [comp1hC, '#000']]},
  {top: 684, height: 171, max: 17.1, interval: 2.08, data: dataNM, fit: fitNM, fitColor: '#ff0000', fitWidth: 2,
   comps: [[compNMCyan, '#00eeee'], [compNMBlue, '#1a1aff'], [compNMGreen, '#22dd22']]}
];

const grid = [], xAxis = [], yAxis = [], series = [];
panels.forEach((p, i) => {
  grid.push({left: 77, right: 80, top: p.top, height: p.height, containLabel: false});
  const last = i === panels.length - 1;
  xAxis.push({
    gridIndex: i, type: 'value', min: xTicks[0], max: xTicks[xTicks.length - 1], interval: 5,
    axisLine: {show: true, onZero: false, lineStyle: {color: '#000', width: 2}},
    axisTick: {show: true, inside: false, length: 14, lineStyle: {color: '#000', width: 2}},
    minorTick: {show: true, splitNumber: 2, length: 8, lineStyle: {color: '#000', width: 2}},
    splitLine: {show: false}, minorSplitLine: {show: false},
    axisLabel: {show: last, color: '#000', fontSize: 29, fontFamily: FONT, margin: 15}
  });
  yAxis.push({
    gridIndex: i, type: 'value', min: 0, max: p.max, interval: p.interval,
    axisLine: {show: true, onZero: false, lineStyle: {color: '#000', width: 2}},
    axisTick: {show: true, inside: false, length: 11, lineStyle: {color: '#000', width: 2}},
    minorTick: {show: true, splitNumber: 2, length: 6, lineStyle: {color: '#000', width: 2}},
    splitLine: {show: false}, minorSplitLine: {show: false},
    axisLabel: {show: false}
  });
  p.comps.forEach(([d, c]) => series.push({
    type: 'line', xAxisIndex: i, yAxisIndex: i, data: d, showSymbol: false, symbol: 'none',
    smooth: 0.3, lineStyle: {color: c, width: 1}, z: 2, silent: true
  }));
  series.push({
    type: 'line', xAxisIndex: i, yAxisIndex: i, data: p.fit, showSymbol: false, symbol: 'none',
    smooth: 0.3, lineStyle: {color: p.fitColor, width: p.fitWidth}, z: 3, silent: true
  });
  series.push({
    type: 'scatter', xAxisIndex: i, yAxisIndex: i, data: p.data, symbol: 'circle', symbolSize: 8,
    itemStyle: {color: 'rgba(0,0,0,0)', borderColor: '#000', borderWidth: 1}, z: 4, silent: true
  });
});

const labelPos = [[846, 107, 'center'], [857, 305, 'center'], [853, 478, 'center'], [844, 635, 'center'], [807, 807, 'left']];
const graphic = [
  {type: 'text', x: 31, y: 469, rotation: Math.PI / 2,
   style: {text: 'Absorption (a.u))', font: '34px ' + FONT, fill: '#000', align: 'center', verticalAlign: 'middle', textAlign: 'center', textVerticalAlign: 'middle'}},
  {type: 'text', x: 466, y: 918, scaleX: 0.79,
   style: {text: 'velocity mm/s', font: 'bold 26px ' + FONT, fill: '#000', align: 'center', verticalAlign: 'middle', textAlign: 'center', textVerticalAlign: 'middle'}},
  {type: 'text', x: 848, y: 945, scaleX: 0.87,
   style: {text: 'ZnCoY', font: '28px ' + FONT, fill: '#000', align: 'center', verticalAlign: 'middle', textAlign: 'center', textVerticalAlign: 'middle'}}
];
panelLabels.forEach((t, i) => {
  const [x, y, a] = labelPos[i];
  graphic.push({type: 'text', x: x, y: y, scaleX: i === 4 ? 0.96 : 1,
    style: {text: t, font: (i === 4 ? '27px ' : '30px ') + FONT, fill: '#000', align: a, verticalAlign: 'middle', textAlign: a, textVerticalAlign: 'middle'}});
});

const chart = echarts.init(document.getElementById('c'), null, {renderer: 'canvas'});
chart.setOption({
  backgroundColor: '#fff', animation: false,
  grid: grid, xAxis: xAxis, yAxis: yAxis, series: series, graphic: graphic
});
</script></body></html>
